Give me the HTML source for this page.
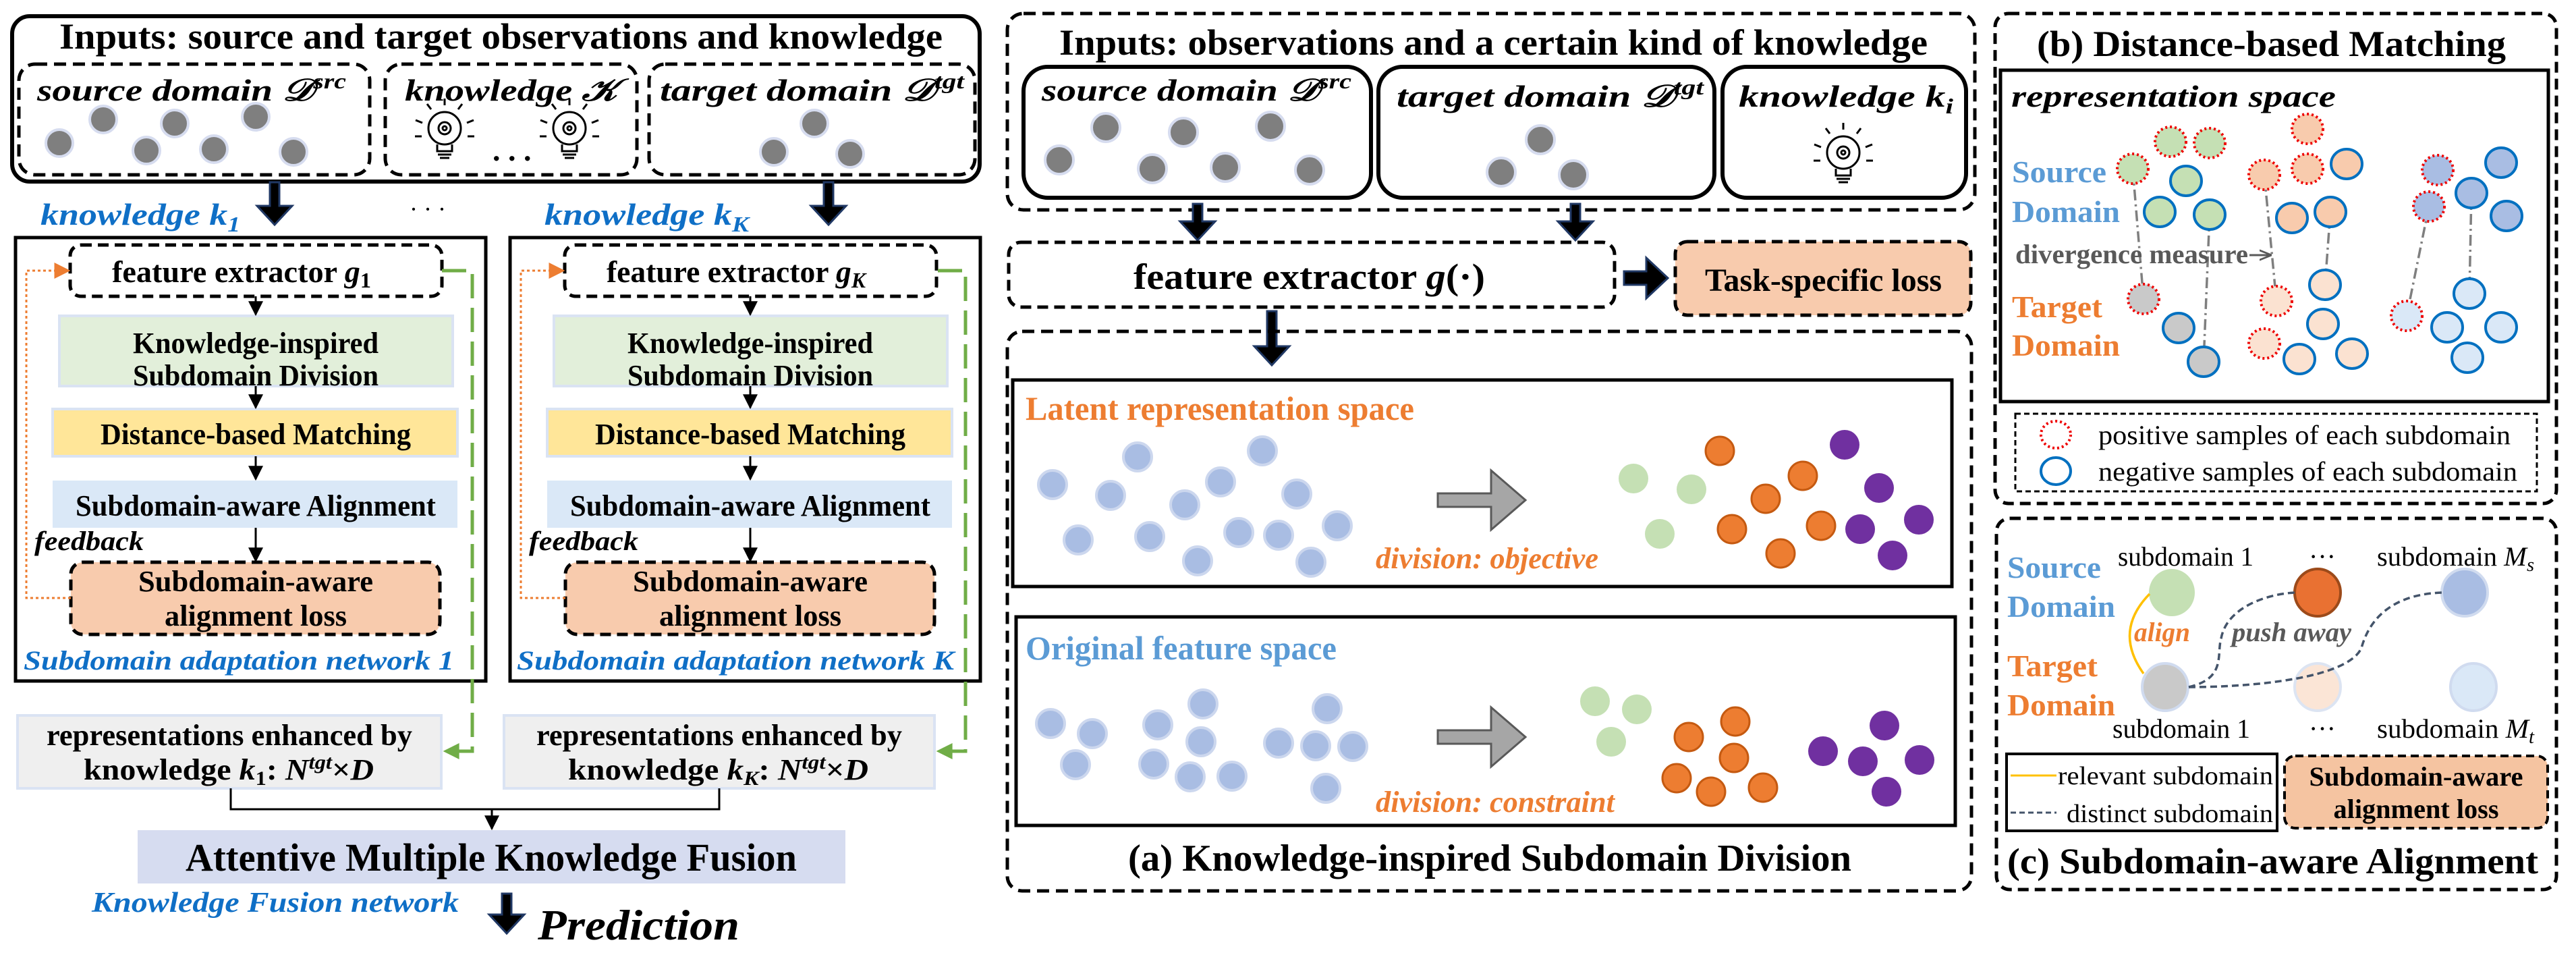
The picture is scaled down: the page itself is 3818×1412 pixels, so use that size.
<!DOCTYPE html>
<html><head><meta charset="utf-8"><style>
html,body{margin:0;padding:0;background:#fff}
svg{display:block}
text{font-family:"Liberation Serif",serif}
.b{font-weight:bold}
.bi{font-weight:bold;font-style:italic}
</style></head><body>
<svg width="3818" height="1412" viewBox="0 0 3818 1412" xmlns="http://www.w3.org/2000/svg">
<defs>
<marker id="ak" markerWidth="10" markerHeight="10" refX="9" refY="5" orient="auto" markerUnits="userSpaceOnUse" viewBox="0 0 10 10"><path d="M0,0 L10,5 L0,10Z" fill="#000"/></marker>
<marker id="akb" viewBox="0 0 10 10" refX="9" refY="5" markerWidth="22" markerHeight="26" orient="auto" markerUnits="userSpaceOnUse"><path d="M0,0 L10,5 L0,10Z" fill="#000"/></marker>
<marker id="ag" viewBox="0 0 10 10" refX="9" refY="5" markerWidth="26" markerHeight="24" orient="auto" markerUnits="userSpaceOnUse"><path d="M0,0 L10,5 L0,10Z" fill="#70ad47"/></marker>
<marker id="ao" viewBox="0 0 10 10" refX="9" refY="5" markerWidth="24" markerHeight="24" orient="auto" markerUnits="userSpaceOnUse"><path d="M0,0 L10,5 L0,10Z" fill="#ed7d31"/></marker>
<marker id="agr" viewBox="0 0 10 10" refX="9" refY="5" markerWidth="18" markerHeight="18" orient="auto" markerUnits="userSpaceOnUse"><path d="M0,1 L10,5 L0,9" fill="none" stroke="#595959" stroke-width="1.5"/></marker>
<g id="bulb" fill="none" stroke="#000" stroke-width="3">
<circle cx="0" cy="-6" r="24"/><circle cx="0" cy="-6" r="9"/><circle cx="0" cy="-6" r="3"/>
<path d="M-11,18 L-11,28 L11,28 L11,18 M-10,33 L10,33 M-7,38 L7,38"/>
<path d="M0,-40 L0,-50 M-20,-34 L-26,-42 M20,-34 L26,-42 M-33,-14 L-43,-18 M33,-14 L43,-18 M-34,6 L-44,6 M34,6 L44,6"/>
</g>
</defs>

<!-- ================= LEFT PANEL ================= -->
<rect x="18" y="24" width="1434" height="245" rx="26" fill="none" stroke="#000" stroke-width="6"/>
<text x="88" y="72" class="b" font-size="54" textLength="1309" lengthAdjust="spacingAndGlyphs">Inputs: source and target observations and knowledge</text>
<g fill="none" stroke="#000" stroke-width="5" stroke-dasharray="18,10">
<rect x="28" y="95" width="520" height="164" rx="24"/>
<rect x="571" y="95" width="373" height="164" rx="24"/>
<rect x="962" y="95" width="483" height="164" rx="24"/>
</g>
<text x="55" y="149" class="bi" font-size="46" textLength="458" lengthAdjust="spacingAndGlyphs">source domain 𝒟<tspan font-size="32" dy="-18">src</tspan></text>
<text x="600" y="149" class="bi" font-size="46" textLength="315" lengthAdjust="spacingAndGlyphs">knowledge 𝒦</text>
<text x="978" y="149" class="bi" font-size="46" textLength="451" lengthAdjust="spacingAndGlyphs">target domain 𝒟<tspan font-size="32" dy="-18">tgt</tspan></text>
<g fill="#7f7f7f" stroke="#d6dcef" stroke-width="4">
<circle cx="88" cy="212" r="20"/><circle cx="153" cy="177" r="20"/><circle cx="217" cy="223" r="20"/><circle cx="259" cy="183" r="20"/><circle cx="317" cy="221" r="20"/><circle cx="379" cy="173" r="20"/><circle cx="435" cy="225" r="20"/>
<circle cx="1207" cy="183" r="20"/><circle cx="1147" cy="225" r="20"/><circle cx="1260" cy="228" r="20"/>
</g>
<use href="#bulb" x="659" y="196"/><use href="#bulb" x="844" y="196"/>
<text x="730" y="238" font-size="46" class="b">. . .</text>

<path d="M400,270 L414,270 L414,305 L433,305 L407,333 L381,305 L400,305Z" fill="#000" stroke="#203864" stroke-width="3"/>
<path d="M1221,270 L1235,270 L1235,305 L1254,305 L1228,333 L1202,305 L1221,305Z" fill="#000" stroke="#203864" stroke-width="3"/>
<text x="60" y="333" class="bi" font-size="46" fill="#0f6fc6" textLength="296" lengthAdjust="spacingAndGlyphs">knowledge k<tspan font-size="32" dy="10">1</tspan></text>
<text x="607" y="322" font-size="36">· · ·</text>
<text x="807" y="333" class="bi" font-size="46" fill="#0f6fc6" textLength="303" lengthAdjust="spacingAndGlyphs">knowledge k<tspan font-size="32" dy="10">K</tspan></text>

<!-- network 1 -->
<g id="net">
<rect x="23" y="352" width="697" height="657" fill="none" stroke="#000" stroke-width="5"/>
<rect x="104" y="363" width="551" height="76" rx="16" fill="#fff" stroke="#000" stroke-width="5" stroke-dasharray="16,9"/>
<rect x="88" y="468" width="583" height="104" fill="#e2efda" stroke="#dae3f3" stroke-width="4"/>
<rect x="78" y="606" width="600" height="70" fill="#ffe699" stroke="#dae3f3" stroke-width="4"/>
<rect x="78" y="712" width="600" height="70" fill="#dae8f7"/>
<rect x="105" y="833" width="547" height="107" rx="18" fill="#f8cbad" stroke="#000" stroke-width="5" stroke-dasharray="16,9"/>
<g stroke="#000" stroke-width="3" fill="none">
<line x1="379" y1="439" x2="379" y2="466" marker-end="url(#akb)"/>
<line x1="379" y1="572" x2="379" y2="604" marker-end="url(#akb)"/>
<line x1="379" y1="676" x2="379" y2="710" marker-end="url(#akb)"/>
<line x1="379" y1="782" x2="379" y2="831" marker-end="url(#akb)"/>
</g>
<text x="379" y="523" class="b" font-size="44" text-anchor="middle" textLength="364" lengthAdjust="spacingAndGlyphs">Knowledge-inspired</text>
<text x="379" y="571" class="b" font-size="44" text-anchor="middle" textLength="364" lengthAdjust="spacingAndGlyphs">Subdomain Division</text>
<text x="379" y="658" class="b" font-size="44" text-anchor="middle" textLength="460" lengthAdjust="spacingAndGlyphs">Distance-based Matching</text>
<text x="379" y="764" class="b" font-size="44" text-anchor="middle" textLength="534" lengthAdjust="spacingAndGlyphs">Subdomain-aware Alignment</text>
<text x="379" y="876" class="b" font-size="44" text-anchor="middle" textLength="348" lengthAdjust="spacingAndGlyphs">Subdomain-aware</text>
<text x="379" y="927" class="b" font-size="44" text-anchor="middle" textLength="270" lengthAdjust="spacingAndGlyphs">alignment loss</text>
<text x="51" y="815" class="bi" font-size="40" textLength="162" lengthAdjust="spacingAndGlyphs">feedback</text>
<path d="M105,886 L39,886 L39,401 L102,401" fill="none" stroke="#ed7d31" stroke-width="3" stroke-dasharray="4,4" marker-end="url(#ao)"/>
</g>
<text x="166" y="418" class="b" font-size="46" textLength="384" lengthAdjust="spacingAndGlyphs">feature extractor <tspan font-style="italic">g</tspan><tspan font-size="32" dy="8">1</tspan></text>
<text x="35" y="992" class="bi" font-size="40" fill="#0f6fc6" textLength="638" lengthAdjust="spacingAndGlyphs">Subdomain adaptation network 1</text>

<use href="#net" x="733"/>
<text x="899" y="418" class="b" font-size="46" textLength="384" lengthAdjust="spacingAndGlyphs">feature extractor <tspan font-style="italic">g</tspan><tspan font-size="32" dy="8" font-style="italic">K</tspan></text>
<text x="766" y="992" class="bi" font-size="40" fill="#0f6fc6" textLength="648" lengthAdjust="spacingAndGlyphs">Subdomain adaptation network K</text>

<!-- green dashed feedback outputs -->
<path d="M655,401 L700,401 L700,1113 L659,1113" fill="none" stroke="#70ad47" stroke-width="5" stroke-dasharray="36,14" marker-end="url(#ag)"/>
<path d="M1390,401 L1431,401 L1431,1113 L1390,1113" fill="none" stroke="#70ad47" stroke-width="5" stroke-dasharray="36,14" marker-end="url(#ag)"/>

<rect x="26" y="1060" width="628" height="108" fill="#efefef" stroke="#dae3f3" stroke-width="4"/>
<rect x="747" y="1060" width="638" height="108" fill="#efefef" stroke="#dae3f3" stroke-width="4"/>
<text x="340" y="1104" class="b" font-size="44" text-anchor="middle" textLength="542" lengthAdjust="spacingAndGlyphs">representations enhanced by</text>
<text x="124" y="1155" class="b" font-size="44" textLength="430" lengthAdjust="spacingAndGlyphs">knowledge <tspan font-style="italic">k</tspan><tspan font-size="30" dy="8">1</tspan><tspan dy="-8">: </tspan><tspan font-style="italic">N</tspan><tspan font-size="30" dy="-16" font-style="italic">tgt</tspan><tspan dy="16">×</tspan><tspan font-style="italic">D</tspan></text>
<text x="1066" y="1104" class="b" font-size="44" text-anchor="middle" textLength="542" lengthAdjust="spacingAndGlyphs">representations enhanced by</text>
<text x="842" y="1155" class="b" font-size="44" textLength="445" lengthAdjust="spacingAndGlyphs">knowledge <tspan font-style="italic">k</tspan><tspan font-size="30" dy="8" font-style="italic">K</tspan><tspan dy="-8">:  </tspan><tspan font-style="italic">N</tspan><tspan font-size="30" dy="-16" font-style="italic">tgt</tspan><tspan dy="16">×</tspan><tspan font-style="italic">D</tspan></text>

<path d="M342,1168 L342,1199 L1066,1199 L1066,1168" fill="none" stroke="#000" stroke-width="3"/>
<line x1="729" y1="1199" x2="729" y2="1228" stroke="#000" stroke-width="3" marker-end="url(#akb)"/>
<rect x="204" y="1230" width="1049" height="79" fill="#d6dcf0"/>
<text x="728" y="1290" class="b" font-size="58" text-anchor="middle" textLength="906" lengthAdjust="spacingAndGlyphs">Attentive Multiple Knowledge Fusion</text>
<text x="136" y="1351" class="bi" font-size="42" fill="#0f6fc6" textLength="544" lengthAdjust="spacingAndGlyphs">Knowledge Fusion network</text>
<path d="M744,1324 L758,1324 L758,1355 L777,1355 L751,1383 L725,1355 L744,1355Z" fill="#000" stroke="#203864" stroke-width="3"/>
<text x="797" y="1392" class="bi" font-size="64" textLength="299" lengthAdjust="spacingAndGlyphs">Prediction</text>

<!-- ================= MIDDLE PANEL ================= -->
<rect x="1493" y="20" width="1434" height="291" rx="24" fill="none" stroke="#000" stroke-width="5" stroke-dasharray="18,10"/>
<text x="1570" y="81" class="b" font-size="54" textLength="1287" lengthAdjust="spacingAndGlyphs">Inputs: observations and a certain kind of knowledge</text>
<g fill="none" stroke="#000" stroke-width="6">
<rect x="1517" y="99" width="515" height="194" rx="36"/>
<rect x="2043" y="99" width="498" height="194" rx="36"/>
<rect x="2553" y="99" width="361" height="194" rx="36"/>
</g>
<text x="1544" y="149" class="bi" font-size="46" textLength="459" lengthAdjust="spacingAndGlyphs">source domain 𝒟<tspan font-size="32" dy="-18">src</tspan></text>
<text x="2070" y="158" class="bi" font-size="46" textLength="455" lengthAdjust="spacingAndGlyphs">target domain 𝒟<tspan font-size="32" dy="-18">tgt</tspan></text>
<text x="2577" y="158" class="bi" font-size="46" textLength="318" lengthAdjust="spacingAndGlyphs">knowledge k<tspan font-size="32" dy="10">i</tspan></text>
<g fill="#7f7f7f" stroke="#d6dcef" stroke-width="4">
<circle cx="1570" cy="237" r="21"/><circle cx="1639" cy="189" r="21"/><circle cx="1708" cy="250" r="21"/><circle cx="1754" cy="196" r="21"/><circle cx="1816" cy="248" r="21"/><circle cx="1883" cy="187" r="21"/><circle cx="1941" cy="252" r="21"/>
<circle cx="2283" cy="207" r="21"/><circle cx="2225" cy="255" r="21"/><circle cx="2332" cy="259" r="21"/>
</g>
<use href="#bulb" x="2732" y="232"/>
<path d="M1768,302 L1782,302 L1782,328 L1801,328 L1775,356 L1749,328 L1768,328Z" fill="#000" stroke="#203864" stroke-width="3"/>
<path d="M2328,302 L2342,302 L2342,328 L2361,328 L2335,356 L2309,328 L2328,328Z" fill="#000" stroke="#203864" stroke-width="3"/>
<rect x="1495" y="359" width="898" height="96" rx="18" fill="none" stroke="#000" stroke-width="5" stroke-dasharray="16,9"/>
<text x="1680" y="428" class="b" font-size="54" textLength="521" lengthAdjust="spacingAndGlyphs">feature extractor <tspan font-style="italic">g</tspan>(·)</text>
<path d="M2407,402 L2440,402 L2440,382 L2472,412 L2440,442 L2440,422 L2407,422Z" fill="#000" stroke="#203864" stroke-width="3"/>
<rect x="2483" y="358" width="438" height="109" rx="18" fill="#f8cbad" stroke="#000" stroke-width="5" stroke-dasharray="16,9"/>
<text x="2527" y="431" class="b" font-size="48" textLength="351" lengthAdjust="spacingAndGlyphs">Task-specific loss</text>
<path d="M1878,461 L1892,461 L1892,513 L1911,513 L1885,541 L1859,513 L1878,513Z" fill="#000" stroke="#203864" stroke-width="3"/>
<rect x="1493" y="491" width="1429" height="829" rx="22" fill="none" stroke="#000" stroke-width="5" stroke-dasharray="18,10"/>

<rect x="1501" y="563" width="1392" height="306" fill="none" stroke="#000" stroke-width="5"/>
<text x="1520" y="622" class="b" font-size="50" fill="#ed7d31" textLength="576" lengthAdjust="spacingAndGlyphs">Latent representation space</text>
<g fill="#a9bde3" stroke="#ccd7ee" stroke-width="4">
<circle cx="1560" cy="718" r="21"/><circle cx="1598" cy="800" r="21"/><circle cx="1646" cy="734" r="21"/><circle cx="1686" cy="677" r="21"/><circle cx="1704" cy="795" r="21"/><circle cx="1756" cy="748" r="21"/><circle cx="1775" cy="831" r="21"/><circle cx="1809" cy="714" r="21"/><circle cx="1836" cy="789" r="21"/><circle cx="1871" cy="668" r="21"/><circle cx="1895" cy="793" r="21"/><circle cx="1922" cy="732" r="21"/><circle cx="1943" cy="833" r="21"/><circle cx="1982" cy="779" r="21"/>
</g>
<path d="M2131,731 L2210,731 L2210,697 L2261,741 L2210,785 L2210,751 L2131,751Z" fill="#a6a6a6" stroke="#595959" stroke-width="3"/>
<text x="2039" y="842" class="bi" font-size="44" fill="#ed7d31" textLength="330" lengthAdjust="spacingAndGlyphs">division: objective</text>
<g fill="#c5e0b4"><circle cx="2421" cy="709" r="22"/><circle cx="2507" cy="725" r="22"/><circle cx="2460" cy="791" r="22"/></g>
<g fill="#ed7d31" stroke="#c55a11" stroke-width="3"><circle cx="2549" cy="668" r="21"/><circle cx="2672" cy="705" r="21"/><circle cx="2617" cy="739" r="21"/><circle cx="2567" cy="784" r="21"/><circle cx="2699" cy="779" r="21"/><circle cx="2639" cy="820" r="21"/></g>
<g fill="#7030a0"><circle cx="2734" cy="659" r="22"/><circle cx="2785" cy="723" r="22"/><circle cx="2757" cy="784" r="22"/><circle cx="2844" cy="770" r="22"/><circle cx="2805" cy="823" r="22"/></g>

<rect x="1506" y="914" width="1392" height="309" fill="none" stroke="#000" stroke-width="5"/>
<text x="1520" y="977" class="b" font-size="50" fill="#5b9bd5" textLength="461" lengthAdjust="spacingAndGlyphs">Original feature space</text>
<g fill="#a9bde3" stroke="#ccd7ee" stroke-width="4">
<circle cx="1557" cy="1072" r="21"/><circle cx="1619" cy="1087" r="21"/><circle cx="1594" cy="1133" r="21"/><circle cx="1716" cy="1074" r="21"/><circle cx="1783" cy="1043" r="21"/><circle cx="1780" cy="1099" r="21"/><circle cx="1710" cy="1132" r="21"/><circle cx="1764" cy="1151" r="21"/><circle cx="1826" cy="1150" r="21"/><circle cx="1895" cy="1101" r="21"/><circle cx="1967" cy="1050" r="21"/><circle cx="1950" cy="1105" r="21"/><circle cx="2005" cy="1106" r="21"/><circle cx="1965" cy="1168" r="21"/>
</g>
<path d="M2131,1082 L2210,1082 L2210,1048 L2261,1092 L2210,1136 L2210,1102 L2131,1102Z" fill="#a6a6a6" stroke="#595959" stroke-width="3"/>
<text x="2039" y="1203" class="bi" font-size="44" fill="#ed7d31" textLength="354" lengthAdjust="spacingAndGlyphs">division: constraint</text>
<g fill="#c5e0b4"><circle cx="2364" cy="1039" r="22"/><circle cx="2426" cy="1051" r="22"/><circle cx="2388" cy="1099" r="22"/></g>
<g fill="#ed7d31" stroke="#c55a11" stroke-width="3"><circle cx="2572" cy="1069" r="21"/><circle cx="2503" cy="1092" r="21"/><circle cx="2570" cy="1123" r="21"/><circle cx="2485" cy="1153" r="21"/><circle cx="2536" cy="1173" r="21"/><circle cx="2613" cy="1167" r="21"/></g>
<g fill="#7030a0"><circle cx="2793" cy="1075" r="22"/><circle cx="2702" cy="1113" r="22"/><circle cx="2761" cy="1128" r="22"/><circle cx="2845" cy="1126" r="22"/><circle cx="2796" cy="1173" r="22"/></g>
<text x="1672" y="1290" class="b" font-size="56" textLength="1072" lengthAdjust="spacingAndGlyphs">(a) Knowledge-inspired Subdomain Division</text>

<!-- ================= RIGHT PANEL (b) ================= -->
<rect x="2957" y="20" width="832" height="726" rx="20" fill="none" stroke="#000" stroke-width="5" stroke-dasharray="16,9"/>
<text x="3019" y="83" class="b" font-size="54" textLength="695" lengthAdjust="spacingAndGlyphs">(b) Distance-based Matching</text>
<rect x="2965" y="104" width="812" height="491" fill="none" stroke="#000" stroke-width="5"/>
<text x="2981" y="158" class="bi" font-size="46" textLength="481" lengthAdjust="spacingAndGlyphs">representation space</text>
<text x="2982" y="270" class="b" font-size="46" fill="#5b9bd5" textLength="140" lengthAdjust="spacingAndGlyphs">Source</text>
<text x="2982" y="329" class="b" font-size="46" fill="#5b9bd5" textLength="160" lengthAdjust="spacingAndGlyphs">Domain</text>
<text x="2982" y="470" class="b" font-size="46" fill="#ed7d31" textLength="134" lengthAdjust="spacingAndGlyphs">Target</text>
<text x="2982" y="527" class="b" font-size="46" fill="#ed7d31" textLength="160" lengthAdjust="spacingAndGlyphs">Domain</text>
<g stroke="#7f7f7f" stroke-width="3.5" stroke-dasharray="16,6,3,6" fill="none">
<line x1="3161" y1="250" x2="3177" y2="443"/><line x1="3275" y1="318" x2="3266" y2="536"/>
<line x1="3356" y1="259" x2="3374" y2="446"/><line x1="3454" y1="314" x2="3446" y2="422"/>
<line x1="3600" y1="306" x2="3567" y2="468"/><line x1="3663" y1="286" x2="3660" y2="435"/>
</g>
<text x="2987" y="390" class="b" font-size="40" fill="#595959" textLength="345" lengthAdjust="spacingAndGlyphs">divergence measure</text>
<line x1="3334" y1="378" x2="3365" y2="378" stroke="#595959" stroke-width="3" marker-end="url(#agr)"/>
<g stroke-width="4">
<g stroke="#e00" stroke-dasharray="3,4">
<ellipse cx="3217" cy="210" rx="23" ry="22" fill="#c5e0b4"/><ellipse cx="3275" cy="212" rx="23" ry="22" fill="#c5e0b4"/><ellipse cx="3161" cy="250" rx="23" ry="22" fill="#c5e0b4"/>
<ellipse cx="3177" cy="443" rx="23" ry="22" fill="#c9c9c9"/>
<ellipse cx="3420" cy="191" rx="23" ry="22" fill="#f8cbad"/><ellipse cx="3356" cy="259" rx="23" ry="22" fill="#f8cbad"/><ellipse cx="3420" cy="250" rx="23" ry="22" fill="#f8cbad"/>
<ellipse cx="3374" cy="446" rx="23" ry="22" fill="#fbe2d1"/><ellipse cx="3356" cy="509" rx="23" ry="22" fill="#fbe2d1"/>
<ellipse cx="3613" cy="252" rx="23" ry="22" fill="#a9bde3"/><ellipse cx="3600" cy="306" rx="23" ry="22" fill="#a9bde3"/>
<ellipse cx="3567" cy="468" rx="23" ry="22" fill="#dae8f7"/>
</g>
<g stroke="#0070c0">
<ellipse cx="3240" cy="268" rx="23" ry="22" fill="#c5e0b4"/><ellipse cx="3201" cy="314" rx="23" ry="22" fill="#c5e0b4"/><ellipse cx="3275" cy="318" rx="23" ry="22" fill="#c5e0b4"/>
<ellipse cx="3229" cy="486" rx="23" ry="22" fill="#c9c9c9"/><ellipse cx="3266" cy="536" rx="23" ry="22" fill="#c9c9c9"/>
<ellipse cx="3478" cy="243" rx="23" ry="22" fill="#f8cbad"/><ellipse cx="3397" cy="323" rx="23" ry="22" fill="#f8cbad"/><ellipse cx="3454" cy="314" rx="23" ry="22" fill="#f8cbad"/>
<ellipse cx="3446" cy="422" rx="23" ry="22" fill="#fbe2d1"/><ellipse cx="3443" cy="480" rx="23" ry="22" fill="#fbe2d1"/><ellipse cx="3408" cy="532" rx="23" ry="22" fill="#fbe2d1"/><ellipse cx="3486" cy="524" rx="23" ry="22" fill="#fbe2d1"/>
<ellipse cx="3707" cy="241" rx="23" ry="22" fill="#a9bde3"/><ellipse cx="3663" cy="286" rx="23" ry="22" fill="#a9bde3"/><ellipse cx="3715" cy="320" rx="23" ry="22" fill="#a9bde3"/>
<ellipse cx="3660" cy="435" rx="23" ry="22" fill="#dae8f7"/><ellipse cx="3627" cy="485" rx="23" ry="22" fill="#dae8f7"/><ellipse cx="3707" cy="485" rx="23" ry="22" fill="#dae8f7"/><ellipse cx="3657" cy="530" rx="23" ry="22" fill="#dae8f7"/>
</g>
</g>
<rect x="2987" y="613" width="773" height="115" fill="none" stroke="#000" stroke-width="3" stroke-dasharray="8,5"/>
<ellipse cx="3047" cy="644" rx="22" ry="20" fill="none" stroke="#e00" stroke-width="4" stroke-dasharray="3,4"/>
<ellipse cx="3047" cy="698" rx="22" ry="20" fill="none" stroke="#0070c0" stroke-width="4"/>
<text x="3110" y="658" font-size="40" textLength="611" lengthAdjust="spacingAndGlyphs">positive samples of each subdomain</text>
<text x="3110" y="712" font-size="40" textLength="621" lengthAdjust="spacingAndGlyphs">negative samples of each subdomain</text>

<!-- ================= RIGHT PANEL (c) ================= -->
<rect x="2959" y="768" width="830" height="550" rx="20" fill="none" stroke="#000" stroke-width="5" stroke-dasharray="16,9"/>
<text x="2975" y="856" class="b" font-size="46" fill="#5b9bd5" textLength="139" lengthAdjust="spacingAndGlyphs">Source</text>
<text x="2975" y="914" class="b" font-size="46" fill="#5b9bd5" textLength="160" lengthAdjust="spacingAndGlyphs">Domain</text>
<text x="2975" y="1002" class="b" font-size="46" fill="#ed7d31" textLength="134" lengthAdjust="spacingAndGlyphs">Target</text>
<text x="2975" y="1060" class="b" font-size="46" fill="#ed7d31" textLength="160" lengthAdjust="spacingAndGlyphs">Domain</text>
<text x="3139" y="838" font-size="40" textLength="201" lengthAdjust="spacingAndGlyphs">subdomain 1</text>
<text x="3422" y="838" font-size="40">···</text>
<text x="3523" y="838" font-size="40" textLength="233" lengthAdjust="spacingAndGlyphs">subdomain <tspan font-style="italic">M</tspan><tspan font-size="28" dy="8" font-style="italic">s</tspan></text>
<text x="3131" y="1093" font-size="40" textLength="204" lengthAdjust="spacingAndGlyphs">subdomain 1</text>
<text x="3422" y="1093" font-size="40">···</text>
<text x="3523" y="1093" font-size="40" textLength="233" lengthAdjust="spacingAndGlyphs">subdomain <tspan font-style="italic">M</tspan><tspan font-size="28" dy="8" font-style="italic">t</tspan></text>
<ellipse cx="3219" cy="878" rx="34" ry="35" fill="#c5e0b4"/>
<ellipse cx="3435" cy="878" rx="34" ry="35" fill="#e97132" stroke="#9c4a1a" stroke-width="4"/>
<ellipse cx="3653" cy="878" rx="34" ry="35" fill="#a9bde3" stroke="#d0dbef" stroke-width="4"/>
<ellipse cx="3209" cy="1018" rx="34" ry="35" fill="#c9c9c9" stroke="#d0dbef" stroke-width="4"/>
<ellipse cx="3435" cy="1018" rx="34" ry="35" fill="#fbe5d6" stroke="#dce4f2" stroke-width="4"/>
<ellipse cx="3666" cy="1018" rx="34" ry="35" fill="#dae8f7" stroke="#d0dbef" stroke-width="4"/>
<path d="M3186,880 Q3132,935 3177,998" fill="none" stroke="#ffc000" stroke-width="3.5"/>
<path d="M3244,1018 C3300,1005 3285,970 3292,946 C3300,900 3360,880 3401,878" fill="none" stroke="#44546a" stroke-width="3.5" stroke-dasharray="10,6"/>
<path d="M3244,1018 C3340,1018 3480,1005 3500,960 C3515,905 3560,880 3619,878" fill="none" stroke="#44546a" stroke-width="3.5" stroke-dasharray="10,6"/>
<text x="3163" y="950" class="bi" font-size="40" fill="#ed7d31" textLength="83" lengthAdjust="spacingAndGlyphs">align</text>
<text x="3308" y="950" class="bi" font-size="40" fill="#595959" textLength="177" lengthAdjust="spacingAndGlyphs">push away</text>
<rect x="2974" y="1117" width="401" height="114" fill="none" stroke="#000" stroke-width="4"/>
<line x1="2980" y1="1149" x2="3048" y2="1149" stroke="#ffc000" stroke-width="3"/>
<line x1="2980" y1="1204" x2="3048" y2="1204" stroke="#44546a" stroke-width="3" stroke-dasharray="8,5"/>
<text x="3050" y="1162" font-size="38" textLength="319" lengthAdjust="spacingAndGlyphs">relevant subdomain</text>
<text x="3063" y="1218" font-size="38" textLength="306" lengthAdjust="spacingAndGlyphs">distinct subdomain</text>
<rect x="3386" y="1120" width="390" height="107" rx="16" fill="#f5c4a1" stroke="#000" stroke-width="4" stroke-dasharray="12,7"/>
<text x="3581" y="1164" class="b" font-size="40" text-anchor="middle" textLength="317" lengthAdjust="spacingAndGlyphs">Subdomain-aware</text>
<text x="3581" y="1212" class="b" font-size="40" text-anchor="middle" textLength="245" lengthAdjust="spacingAndGlyphs">alignment loss</text>
<text x="2975" y="1294" class="b" font-size="54" textLength="787" lengthAdjust="spacingAndGlyphs">(c) Subdomain-aware Alignment</text>
</svg>
</body></html>
